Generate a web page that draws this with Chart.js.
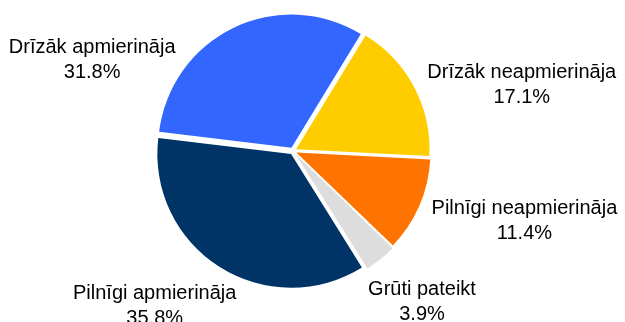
<!DOCTYPE html>
<html>
<head>
<meta charset="utf-8">
<script src="https://cdn.jsdelivr.net/npm/chart.js@4/dist/chart.umd.min.js"></script>
<style>
  html, body { margin: 0; padding: 0; background: #fff; }
  #wrap { width: 625px; height: 322px; position: relative; }
</style>
</head>
<body>
<div id="wrap"><canvas id="pie"></canvas></div>
<script>
// aptaujas atbilžu sadalījums (%)
var categories = ['Pilnīgi apmierināja', 'Drīzāk apmierināja', 'Drīzāk neapmierināja', 'Pilnīgi neapmierināja', 'Grūti pateikt'];
var shares = [35.8, 31.8, 17.1, 11.4, 3.9];
var sliceColors = ['#003366', '#3366FF', '#FFCC00', '#FF7300', '#DDDDDD'];

// etiķešu novietojums attiecībā pret centru, rādiusa daļās (x, pirmās rindas bāzes līnija)
var labelAnchors = [
  [-1.04, 1.11],
  [-1.51, -0.74],
  [1.72, -0.55],
  [1.74, 0.47],
  [0.97, 1.08]
];

var sliceLabels = {
  id: 'sliceLabels',
  afterDatasetsDraw: function(chart) {
    var ctx = chart.ctx;
    var meta = chart.getDatasetMeta(0);
    ctx.save();
    ctx.fillStyle = '#000';
    ctx.font = '20px "Liberation Sans", Arial, sans-serif';
    ctx.textAlign = 'center';
    ctx.textBaseline = 'alphabetic';
    meta.data.forEach(function(arc, i) {
      var r = arc.outerRadius;
      var x = arc.x + labelAnchors[i][0] * r;
      var y = arc.y + labelAnchors[i][1] * r;
      ctx.fillText(categories[i], x, y);
      ctx.fillText(shares[i].toFixed(1) + '%', x, y + 25);
    });
    ctx.restore();
  }
};

new Chart(document.getElementById('pie').getContext('2d'), {
  type: 'pie',
  data: {
    labels: categories,
    datasets: [{
      data: shares,
      backgroundColor: sliceColors,
      borderWidth: 0,
      offset: 14   // izvirzītās daļas (Chart.js nobīda par offset/4 px)
    }]
  },
  options: {
    responsive: true,
    maintainAspectRatio: false,
    animation: false,
    rotation: 148,
    layout: { padding: { top: 11, bottom: 31, left: 0, right: 39 } },
    plugins: {
      legend: { display: false },
      tooltip: { enabled: false }
    }
  },
  plugins: [sliceLabels]
});
</script>
</body>
</html>
